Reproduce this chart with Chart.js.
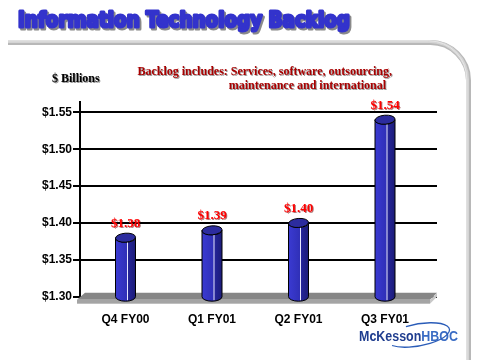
<!DOCTYPE html>
<html>
<head>
<meta charset="utf-8">
<script src="https://cdn.jsdelivr.net/npm/chart.js@4/dist/chart.umd.min.js"></script>
<style>
html,body{margin:0;padding:0;background:#fff;}
canvas{display:block;}
</style>
</head>
<body>
<canvas id="c" width="480" height="360"></canvas>
<script>
const categories = ['Q4 FY00', 'Q1 FY01', 'Q2 FY01', 'Q3 FY01'];
const backlog = [1.38, 1.39, 1.40, 1.54];
const valueLabels = ['$1.38', '$1.39', '$1.40', '$1.54'];
const yTicks = [1.30, 1.35, 1.40, 1.45, 1.50, 1.55];
const titleText = 'Information Technology Backlog';
const unitText = '$ Billions';
const noteLines = ['Backlog includes: Services, software, outsourcing,', 'maintenance and international'];

const decor = {
  id: 'decor',
  beforeDraw(chart) {
    const ctx = chart.ctx;
    ctx.save();
    ctx.fillStyle = '#fff';
    ctx.fillRect(0, 0, chart.width, chart.height);

    // title
    ctx.font = 'bold 21px "DejaVu Sans"';
    ctx.textBaseline = 'alphabetic';
    ctx.textAlign = 'left';
    const w = ctx.measureText(titleText).width;
    const sx = 332 / w;
    ctx.save();
    ctx.translate(18, 27);
    ctx.scale(sx, 1);
    ctx.lineJoin = 'round';
    ctx.fillStyle = '#8a8a8a'; ctx.strokeStyle = '#8a8a8a'; ctx.lineWidth = 3;
    ctx.strokeText(titleText, 2, 2); ctx.fillText(titleText, 2, 2);
    ctx.fillStyle = '#3333cc'; ctx.strokeStyle = '#3333cc';
    ctx.strokeText(titleText, 0, 0); ctx.fillText(titleText, 0, 0);
    ctx.restore();

    // rule with rounded corner
    const drawRule = (off, color, lw) => {
      ctx.beginPath();
      ctx.moveTo(8, 42 + off);
      ctx.arcTo(468 + off, 42 + off, 468 + off, 360, 38);
      ctx.lineTo(468 + off, 362);
      ctx.strokeStyle = color; ctx.lineWidth = lw; ctx.stroke();
    };
    drawRule(0.5, '#b8b8b8', 5);
    drawRule(-0.5, '#d4d4d4', 3);
    drawRule(-1.2, '#e6e6e6', 1);

    // unit label
    ctx.font = 'bold 12px "Liberation Serif"';
    ctx.fillStyle = '#999';
    ctx.fillText(unitText, 53, 83);
    ctx.fillStyle = '#000';
    ctx.fillText(unitText, 52, 82);

    // note
    ctx.font = 'bold 12px "Liberation Serif"';
    ctx.textAlign = 'right';
    const drawNote = (t, x, y) => {
      ctx.fillStyle = '#9a9a9a'; ctx.fillText(t, x + 1, y + 1);
      ctx.fillStyle = '#a80000'; ctx.fillText(t, x, y);
    };
    drawNote(noteLines[0], 392, 75);
    drawNote(noteLines[1], 386, 89);

    // logo
    ctx.textAlign = 'left';
    ctx.font = 'bold 14px "Liberation Sans"';
    const mw = ctx.measureText('McKesson').width;
    const hw = ctx.measureText('HBOC').width;
    const ls = 99 / (mw + hw);
    ctx.save();
    ctx.translate(359, 341);
    ctx.scale(ls, 1);
    ctx.fillStyle = '#1f3d8f';
    ctx.fillText('McKesson', 0, 0);
    ctx.fillStyle = '#3a6cc4';
    ctx.fillText('HBOC', mw, 0);
    ctx.restore();
    ctx.beginPath();
    ctx.ellipse(418, 335, 32, 11, -0.18, -1.9, 2.6);
    ctx.strokeStyle = '#2a5cb8'; ctx.lineWidth = 1.3; ctx.stroke();
    ctx.restore();
  },
  beforeDatasetsDraw(chart) {
    const ctx = chart.ctx;
    const a = chart.chartArea;
    const b = a.bottom;
    ctx.save();
    ctx.beginPath();
    ctx.moveTo(a.left + 5, b - 4);
    ctx.lineTo(a.right, b - 4);
    ctx.lineTo(a.right - 7, b + 3);
    ctx.lineTo(a.left - 3, b + 3);
    ctx.closePath();
    ctx.fillStyle = '#868686'; ctx.fill();
    ctx.fillStyle = '#a4a4a4';
    ctx.fillRect(a.left - 3, b + 3, a.right - 7 - (a.left - 3), 4);
    ctx.beginPath();
    ctx.moveTo(a.right, b - 4);
    ctx.lineTo(a.right, b);
    ctx.lineTo(a.right - 7, b + 7);
    ctx.lineTo(a.right - 7, b + 3);
    ctx.closePath();
    ctx.fillStyle = '#c8c8c8'; ctx.fill();
    ctx.restore();
  },
  afterDatasetsDraw(chart) {
    const ctx = chart.ctx;
    const meta = chart.getDatasetMeta(0);
    const ys = chart.scales.y;
    ctx.save();
    meta.data.forEach((bar, i) => {
      const w = bar.width, cx = bar.x, x0 = cx - w / 2, x1 = cx + w / 2;
      const yt = bar.y, yb = ys.getPixelForValue(ys.min), rx = w / 2, ry = 4.5;
      const g = ctx.createLinearGradient(x0, 0, x1, 0);
      g.addColorStop(0, '#3a3ad2');
      g.addColorStop(0.55, '#3030b8');
      g.addColorStop(0.62, '#25259a');
      g.addColorStop(1, '#1c1c78');
      ctx.beginPath();
      ctx.moveTo(x0, yt);
      ctx.lineTo(x0, yb);
      ctx.ellipse(cx, yb, rx, ry, 0, Math.PI, 0, true);
      ctx.lineTo(x1, yt);
      ctx.ellipse(cx, yt, rx, ry, 0, 0, Math.PI, false);
      ctx.closePath();
      ctx.fillStyle = g; ctx.fill();
      ctx.strokeStyle = '#000'; ctx.lineWidth = 1; ctx.stroke();
      ctx.beginPath();
      ctx.moveTo(x0 + w * 0.6, yt + ry);
      ctx.lineTo(x0 + w * 0.6, yb + ry - 1);
      ctx.strokeStyle = '#e8e8ff'; ctx.lineWidth = 1; ctx.stroke();
      ctx.beginPath();
      ctx.ellipse(cx, yt, rx, ry, -0.08, 0, Math.PI * 2);
      ctx.fillStyle = '#2c2c9e'; ctx.fill();
      ctx.strokeStyle = '#000'; ctx.stroke();
      ctx.font = 'bold 13px "Liberation Serif"';
      ctx.textAlign = 'center';
      ctx.textBaseline = 'alphabetic';
      ctx.fillStyle = 'rgba(110,0,0,0.55)';
      ctx.fillText(valueLabels[i], cx + 1, yt - 10);
      ctx.fillStyle = '#ff0000';
      ctx.fillText(valueLabels[i], cx, yt - 11);
    });
    ctx.restore();
  }
};

new Chart(document.getElementById('c'), {
  type: 'bar',
  data: {
    datasets: [{
      data: backlog.map((v, i) => ({ x: i, y: v })),
      base: yTicks[0],
      backgroundColor: 'rgba(0,0,0,0)',
      borderWidth: 0,
      barThickness: 20
    }]
  },
  options: {
    responsive: false,
    animation: false,
    events: [],
    layout: { padding: { top: 102, right: 43, left: 0, bottom: 0 } },
    plugins: { legend: { display: false }, tooltip: { enabled: false } },
    scales: {
      x: {
        type: 'linear',
        offset: false,
        min: -0.526,
        max: 3.601,
        afterBuildTicks(s) { s.ticks = categories.map((c, i) => ({ value: i })); },
        afterFit(s) { s.height = 63.3; },
        grid: { display: false, drawTicks: false, offset: false },
        border: { display: false },
        ticks: {
          padding: 16,
          color: '#000',
          font: { family: '"Liberation Sans"', size: 12, weight: 'bold' },
          callback: (v) => categories[v]
        }
      },
      y: {
        min: 1.30,
        max: 1.564,
        afterBuildTicks(s) { s.ticks = yTicks.map(v => ({ value: v })); },
        afterFit(s) { s.width = 80; },
        grid: { color: '#000', lineWidth: 2, tickLength: 7, drawTicks: true },
        border: { display: true, color: '#000', width: 2 },
        ticks: {
          padding: 1,
          color: '#000',
          font: { family: '"Liberation Sans"', size: 12, weight: 'bold' },
          callback: (v) => '$' + Number(v).toFixed(2)
        }
      }
    }
  },
  plugins: [decor]
});
</script>
</body>
</html>
